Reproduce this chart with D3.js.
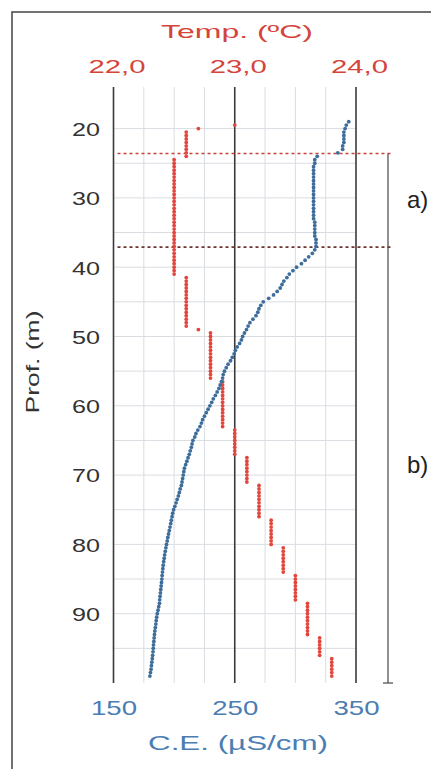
<!DOCTYPE html>
<html><head><meta charset="utf-8">
<script src="https://cdn.jsdelivr.net/npm/d3@7"></script>
<style>html,body{margin:0;padding:0;background:#fff;} svg{display:block;font-family:"Liberation Sans",Arial,sans-serif;}</style>
</head><body><svg id="c" width="431" height="769"></svg>
<script>
// ---- data ----
const depths = [
 19,19.5,20,20.5,21,21.5,22,22.5,23,23.5,
 24,24.5,25,25.5,26,26.5,27,27.5,28,28.5,
 29,29.5,30,30.5,31,31.5,32,32.5,33,33.5,
 34,34.5,35,35.5,36,36.5,37,37.5,38,38.5,
 39,39.5,40,40.5,41,41.5,42,42.5,43,43.5,
 44,44.5,45,45.5,46,46.5,47,47.5,48,48.5,
 49,49.5,50,50.5,51,51.5,52,52.5,53,53.5,
 54,54.5,55,55.5,56,56.5,57,57.5,58,58.5,
 59,59.5,60,60.5,61,61.5,62,62.5,63,63.5,
 64,64.5,65,65.5,66,66.5,67,67.5,68,68.5,
 69,69.5,70,70.5,71,71.5,72,72.5,73,73.5,
 74,74.5,75,75.5,76,76.5,77,77.5,78,78.5,
 79,79.5,80,80.5,81,81.5,82,82.5,83,83.5,
 84,84.5,85,85.5,86,86.5,87,87.5,88,88.5,
 89,89.5,90,90.5,91,91.5,92,92.5,93,93.5,
 94,94.5,95,95.5,96,96.5,97,97.5,98,98.5,
 99];
const ceValues = [
 344,342,341,340,340,340,340,339,339,335,
 318,316,316,315,315,315,315,315,315,315,
 315,315,315,315,315,315,315,315,315,316,
 316,316,316,316,317,317,317,316,314,311,
 308,305,301,298,295,293,290.5,289,287.5,285,
 282,278,273.5,271.5,270,269,267.5,265,262.5,261,
 259.7,258,256.5,255.5,254,252,250.5,249.5,248,246.5,
 244.5,243,241.5,240.5,240,239,238,237,235.5,234,
 232.3,231,229.5,228,226.5,225,223.5,222.5,221.3,219.5,
 218,217,215.5,214.8,214.2,213.3,212.5,211.5,210.5,209.5,
 208.5,208,207.5,207,206.5,206,205,204.3,203.5,202.5,
 201.6,200.6,199.6,198.8,198.3,197.7,197.2,196.6,196,195.4,
 194.8,194.3,193.7,193.2,192.7,192.2,191.8,191.4,191,190.7,
 190.4,190.1,189.9,189.6,189.3,189,188.7,188.4,188.1,187.9,
 187.3,186.7,186.1,185.6,185.2,184.9,184.5,184.1,183.8,183.5,
 183.3,183,182.8,182.6,182.3,182,181.6,181.3,181,180.5,
 180];
const tempValues = [
 null,23.0,22.7,22.6,22.6,22.6,22.6,22.6,22.6,22.6,
 22.6,22.5,22.5,22.5,22.5,22.5,22.5,22.5,22.5,22.5,
 22.5,22.5,22.5,22.5,22.5,22.5,22.5,22.5,22.5,22.5,
 22.5,22.5,22.5,22.5,22.5,22.5,22.5,22.5,22.5,22.5,
 22.5,22.5,22.5,22.5,22.5,22.6,22.6,22.6,22.6,22.6,
 22.6,22.6,22.6,22.6,22.6,22.6,22.6,22.6,22.6,22.6,
 22.7,22.8,22.8,22.8,22.8,22.8,22.8,22.8,22.8,22.8,
 22.8,22.8,22.8,22.8,22.8,22.9,22.9,22.9,22.9,22.9,
 22.9,22.9,22.9,22.9,22.9,22.9,22.9,22.9,22.9,23.0,
 23.0,23.0,23.0,23.0,23.0,23.0,23.0,23.1,23.1,23.1,
 23.1,23.1,23.1,23.1,23.1,23.2,23.2,23.2,23.2,23.2,
 23.2,23.2,23.2,23.2,23.2,23.3,23.3,23.3,23.3,23.3,
 23.3,23.3,23.3,23.4,23.4,23.4,23.4,23.4,23.4,23.4,
 23.4,23.5,23.5,23.5,23.5,23.5,23.5,23.5,23.5,23.6,
 23.6,23.6,23.6,23.6,23.6,23.6,23.6,23.6,23.6,23.7,
 23.7,23.7,23.7,23.7,23.7,23.8,23.8,23.8,23.8,23.8,
 23.8];
const ceTicks = [150, 250, 350];
const ceTickLabels = ["150", "250", "350"];
const tempTicks = [22, 23, 24];
const tempTickLabels = ["22,0", "23,0", "24,0"];
const depthTicks = [20, 30, 40, 50, 60, 70, 80, 90];
const ceGrid = [175, 200, 225, 275, 300, 325];
const depthGrid = [20, 25, 30, 35, 40, 45, 50, 55, 60, 65, 70, 75, 80, 85, 90, 95];
const zoneDepths = [23.6, 37.1];
const zoneLabels = ["a)", "b)"];
const depthDomain = [14, 100];
const tempTitle = "Temp. (ºC)";
const ceTitle = "C.E. (µS/cm)";
const depthTitle = "Prof. (m)";

// ---- drawing ----
const RED = "#e2463d", RED_TXT = "#d4443b", BLUE = "#3d6d9b", BLUE_TXT = "#4b7db2", INK = "#333";
const svg = d3.select("#c");
const y = d3.scaleLinear().domain(depthDomain).range([87, 683]);
const xCE = d3.scaleLinear().domain([150, 350]).range([113.5, 356]);
const xT = d3.scaleLinear().domain([22, 24]).range([113.5, 356]);

// frame
svg.append("path").attr("d", "M12,769V12H431").attr("fill", "none").attr("stroke", "#444").attr("stroke-width", 1.5);

// light grid
svg.append("g").selectAll("line").data(ceGrid).join("line")
  .attr("x1", d => xCE(d)).attr("x2", d => xCE(d)).attr("y1", y(depthDomain[0])).attr("y2", y(depthDomain[1]))
  .attr("stroke", "#d9dde2").attr("stroke-width", 1);
svg.append("g").selectAll("line").data(depthGrid).join("line")
  .attr("x1", xCE(150)).attr("x2", xCE(350)).attr("y1", d => y(d)).attr("y2", d => y(d))
  .attr("stroke", "#d9dde2").attr("stroke-width", 1);

// dark verticals
svg.append("g").selectAll("line").data(ceTicks).join("line")
  .attr("x1", d => xCE(d)).attr("x2", d => xCE(d)).attr("y1", y(depthDomain[0])).attr("y2", y(depthDomain[1]))
  .attr("stroke", "#3a3a3a").attr("stroke-width", 1.6);

// zone bracket on right
const bx = xCE(350) + 32;
svg.append("line").attr("x1", bx).attr("x2", bx).attr("y1", y(zoneDepths[0])).attr("y2", y(depthDomain[1]))
  .attr("stroke", "#555").attr("stroke-width", 1.3);
svg.append("line").attr("x1", bx - 5).attr("x2", bx + 5).attr("y1", y(depthDomain[1])).attr("y2", y(depthDomain[1]))
  .attr("stroke", "#555").attr("stroke-width", 1.3);

// dashed zone lines
svg.append("g").selectAll("line").data(zoneDepths).join("line")
  .attr("x1", xCE(150) + 4).attr("x2", bx + 4).attr("y1", d => y(d)).attr("y2", d => y(d))
  .attr("stroke", (d, i) => i === 0 ? "#c8423a" : "#6e3532").attr("stroke-width", 1.6).attr("stroke-dasharray", "3,3");

// zone labels
const zoneMid = [(zoneDepths[0] + zoneDepths[1]) / 2, (zoneDepths[1] + depthDomain[1]) / 2];
svg.append("g").selectAll("text").data(zoneLabels).join("text")
  .attr("x", bx + 19).attr("y", (d, i) => y(zoneMid[i]) + 8)
  .attr("font-size", 24).attr("fill", "#222").text(d => d);

// temperature points
const tData = depths.map((d, i) => ({d, v: tempValues[i]})).filter(p => p.v !== null);
svg.append("g").selectAll("circle").data(tData).join("circle")
  .attr("cx", p => xT(p.v)).attr("cy", p => y(p.d)).attr("r", 1.9).attr("fill", RED);

// CE points
const cData = depths.map((d, i) => ({d, v: ceValues[i]}));
svg.append("g").selectAll("circle").data(cData).join("circle")
  .attr("cx", p => xCE(p.v)).attr("cy", p => y(p.d)).attr("r", 1.9).attr("fill", BLUE);

// top temperature axis
const gTop = svg.append("g")
  .call(d3.axisTop(xT).tickValues(tempTicks).tickFormat((d, i) => tempTickLabels[i]).tickSize(0).tickPadding(0));
gTop.attr("transform", "translate(3,73)");
gTop.select(".domain").remove();
gTop.selectAll("text").attr("font-size", 19).attr("fill", RED_TXT).attr("font-family", "Liberation Sans, Arial, sans-serif")
  .attr("dy", 0).attr("y", 0).attr("textLength", 57).attr("lengthAdjust", "spacingAndGlyphs");
svg.append("text").attr("x", 237).attr("y", 38).attr("text-anchor", "middle").attr("font-size", 19)
  .attr("fill", RED_TXT).attr("textLength", 152).attr("lengthAdjust", "spacingAndGlyphs").text(tempTitle);

// bottom CE axis
const gBot = svg.append("g").attr("transform", "translate(0,715)")
  .call(d3.axisBottom(xCE).tickValues(ceTicks).tickFormat((d, i) => ceTickLabels[i]).tickSize(0).tickPadding(0));
gBot.select(".domain").remove();
gBot.selectAll("text").attr("font-size", 21).attr("fill", BLUE_TXT).attr("font-family", "Liberation Sans, Arial, sans-serif")
  .attr("dy", 0).attr("y", 0).attr("textLength", 46).attr("lengthAdjust", "spacingAndGlyphs");
svg.append("text").attr("x", 238).attr("y", 750).attr("text-anchor", "middle").attr("font-size", 20)
  .attr("fill", BLUE_TXT).attr("textLength", 180).attr("lengthAdjust", "spacingAndGlyphs").text(ceTitle);

// left depth axis
const gLeft = svg.append("g").attr("transform", "translate(100,0)")
  .call(d3.axisLeft(y).tickValues(depthTicks).tickSize(0).tickPadding(0));
gLeft.select(".domain").remove();
gLeft.selectAll("text").attr("font-size", 19).attr("fill", INK).attr("font-family", "Liberation Sans, Arial, sans-serif")
  .attr("dy", "0.36em").attr("x", 0).attr("textLength", 28).attr("lengthAdjust", "spacingAndGlyphs");
svg.append("text").attr("transform", "translate(39,362) rotate(-90)").attr("text-anchor", "middle")
  .attr("font-size", 19).attr("fill", INK).attr("textLength", 103).attr("lengthAdjust", "spacingAndGlyphs").text(depthTitle);
</script></body></html>
